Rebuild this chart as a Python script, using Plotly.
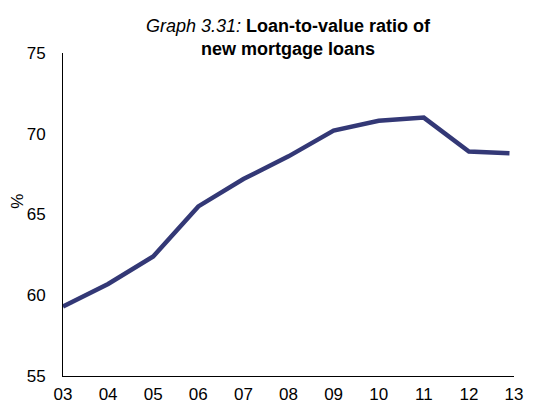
import plotly.graph_objects as go

# Loan-to-value ratio of new mortgage loans, %
years = [2003, 2004, 2005, 2006, 2007, 2008, 2009, 2010, 2011, 2012, 2012.9]
ltv = [59.3, 60.7, 62.4, 65.5, 67.2, 68.6, 70.2, 70.8, 71.0, 68.9, 68.8]

tick_years = list(range(2003, 2014))
tick_text = ["03", "04", "05", "06", "07", "08", "09", "10", "11", "12", "13"]
y_ticks = [55, 60, 65, 70, 75]

fig = go.Figure()
fig.add_trace(go.Scatter(
    x=years, y=ltv, mode="lines",
    line=dict(color="#333876", width=4.5),
    hoverinfo="skip",
))

font_family = "Liberation Sans, Arial, sans-serif"

fig.update_layout(
    width=535, height=406,
    margin=dict(l=63, r=21, t=53, b=30, autoexpand=False),
    paper_bgcolor="white", plot_bgcolor="white",
    showlegend=False,
    font=dict(family=font_family, size=17, color="black"),
    xaxis=dict(
        range=[2003, 2013], tickvals=tick_years, ticktext=tick_text,
        showgrid=False, zeroline=False, showline=True, automargin=False,
        linecolor="black", linewidth=1, ticks="", ticklabelstandoff=3,
        tickfont=dict(size=17),
    ),
    yaxis=dict(
        range=[55, 75], tickvals=y_ticks,
        showgrid=False, zeroline=False, showline=True, automargin=False,
        linecolor="black", linewidth=1, ticks="", ticklabelstandoff=13,
        tickfont=dict(size=17),
    ),
    annotations=[
        dict(
            text="<i>Graph 3.31:</i> <b>Loan-to-value ratio of</b><br><b>new mortgage loans</b>",
            showarrow=False, xref="paper", yref="paper", x=0.5, y=1,
            xanchor="center", yanchor="bottom", yshift=-8,
            font=dict(family=font_family, size=18, color="black"),
        ),
        dict(
            text="%", textangle=-90, showarrow=False,
            xref="paper", yref="paper", x=-0.1, y=0.542,
            xanchor="center", yanchor="middle",
            font=dict(family=font_family, size=17, color="black"),
        ),
    ],
)

fig.write_html("out.html")
